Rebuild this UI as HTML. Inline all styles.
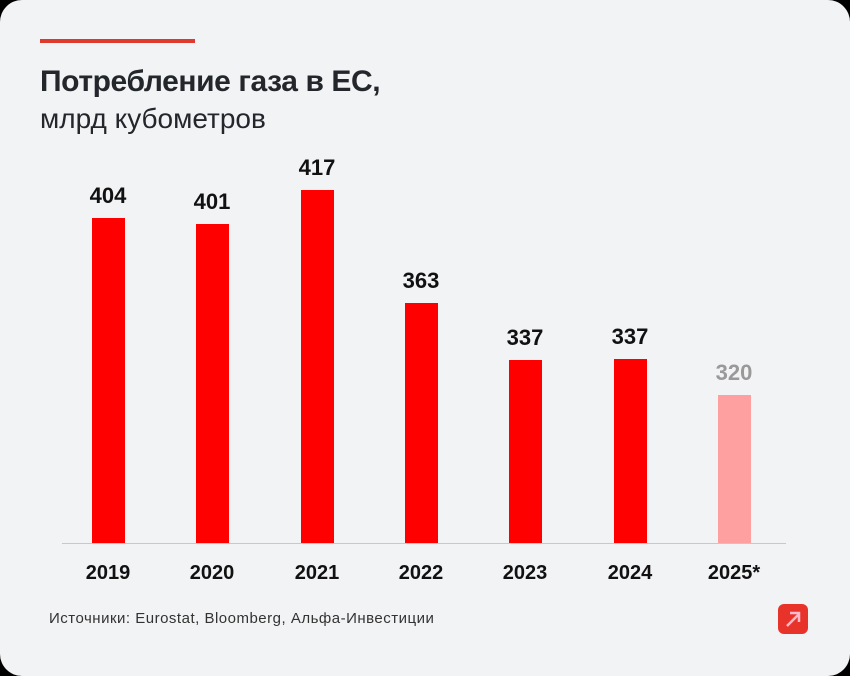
<!DOCTYPE html>
<html><head><style>
body{margin:0;width:850px;height:676px;background:#000;overflow:hidden}
.card{position:absolute;left:0;top:0;width:850px;height:676px;background:#f2f3f5;border-radius:22px;font-family:"Liberation Sans","DejaVu Sans",sans-serif}
.t{position:absolute;white-space:nowrap}
.bar{position:absolute;width:33px;background:#ff0000}
.v{position:absolute;width:80px;text-align:center;font-weight:bold;font-size:22px;color:#111}
.y{position:absolute;width:90px;text-align:center;font-weight:bold;font-size:20px;color:#111;top:562px}
</style></head><body><div class="card">
<div style="position:absolute;left:40px;top:39px;width:155px;height:4px;background:#e03a2f"></div>
<div class="t" style="left:40px;top:65px;font-size:30px;font-weight:bold;color:#23262b;letter-spacing:-0.4px">Потребление газа в ЕС,</div>
<div class="t" style="left:40px;top:103px;font-size:28px;color:#23262b">млрд кубометров</div>
<div style="position:absolute;left:62px;top:543px;width:724px;height:1px;background:#c8c8c8"></div>

<div class="bar" style="left:92px;top:218px;height:325px"></div>
<div class="bar" style="left:196px;top:224px;height:319px"></div>
<div class="bar" style="left:301px;top:190px;height:353px"></div>
<div class="bar" style="left:405px;top:303px;height:240px"></div>
<div class="bar" style="left:509px;top:360px;height:183px"></div>
<div class="bar" style="left:614px;top:359px;height:184px"></div>
<div class="bar" style="left:718px;top:395px;height:148px;background:#ffa0a0"></div>

<div class="v" style="left:68px;top:183px">404</div>
<div class="v" style="left:172px;top:189px">401</div>
<div class="v" style="left:277px;top:155px">417</div>
<div class="v" style="left:381px;top:268px">363</div>
<div class="v" style="left:485px;top:325px">337</div>
<div class="v" style="left:590px;top:324px">337</div>
<div class="v" style="left:694px;top:360px;color:#999">320</div>

<div class="y" style="left:63px">2019</div>
<div class="y" style="left:167px">2020</div>
<div class="y" style="left:272px">2021</div>
<div class="y" style="left:376px">2022</div>
<div class="y" style="left:480px">2023</div>
<div class="y" style="left:585px">2024</div>
<div class="y" style="left:689px">2025*</div>

<div class="t" style="left:49px;top:610px;font-size:15px;letter-spacing:0.5px;color:#333">Источники: Eurostat, Bloomberg, Альфа-Инвестиции</div>
<div style="position:absolute;left:778px;top:604px;width:30px;height:30px;border-radius:6px;background:#e8332a">
<svg width="30" height="30"><line x1="9" y1="22" x2="21" y2="10" stroke="#fbc" stroke-width="2.5"/><polyline points="12,9 21,9 21,18" fill="none" stroke="#fbc" stroke-width="2.5"/></svg></div>
</div></body></html>
